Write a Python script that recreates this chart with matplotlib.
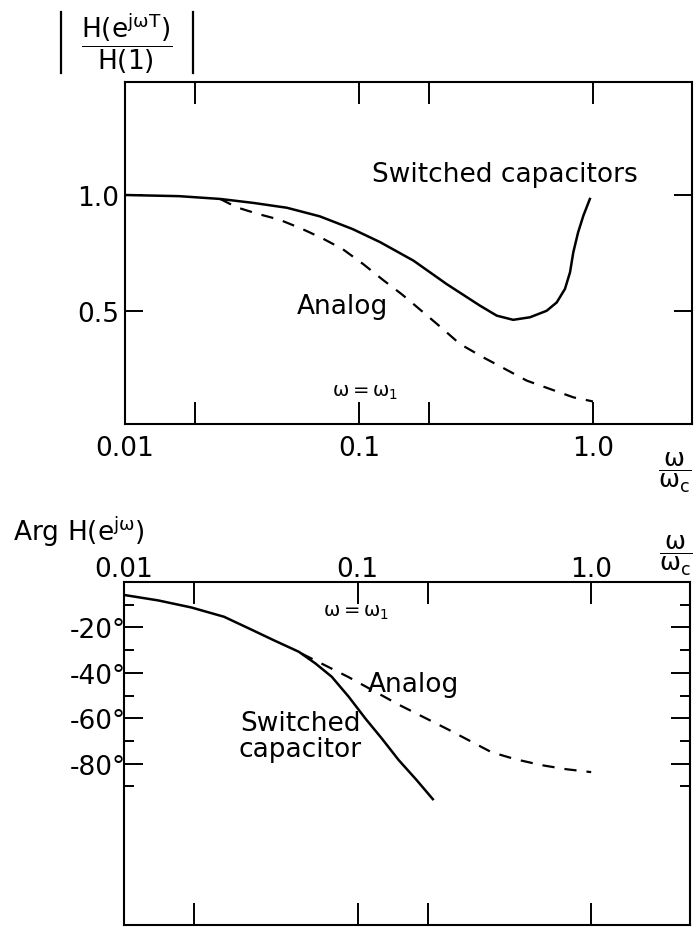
#=======================================================================
# GENERAL DOCUMENTATION ------------------------------------------------
""" Magnitude and phase of a switched capacitor filter compared with
    the analog prototype (log frequency axis, two stacked panels).
"""

#=======================================================================
# PROGRAM IMPORTS ------------------------------------------------------
import numpy as nu
import matplotlib
matplotlib.use("Agg")
import matplotlib.pyplot as plt
from matplotlib.lines import Line2D
from matplotlib.ticker import FixedLocator, FixedFormatter, NullLocator

# PROGRAM CONSTANTS ----------------------------------------------------
# Magnitude panel, switched capacitor (solid)
mag_sc_w = [0.01, 0.017, 0.0255, 0.0353, 0.0492, 0.068, 0.094, 0.123,
            0.171, 0.237, 0.329, 0.388, 0.456, 0.538, 0.634, 0.70,
            0.759, 0.798, 0.824, 0.864, 0.91, 0.97]
mag_sc_h = [1.0, 0.995, 0.983, 0.966, 0.945, 0.908, 0.853, 0.797,
            0.717, 0.616, 0.523, 0.48, 0.462, 0.473, 0.501, 0.537,
            0.595, 0.667, 0.753, 0.839, 0.911, 0.983]

# Magnitude panel, analog (dashed)
mag_an_w = [0.0255, 0.030, 0.0371, 0.0456, 0.0565, 0.0692, 0.0851,
            0.104, 0.127, 0.152, 0.171, 0.215, 0.237, 0.27, 0.34,
            0.414, 0.521, 0.655, 0.824, 0.97, 1.0]
mag_an_h = [0.983, 0.947, 0.918, 0.894, 0.856, 0.815, 0.767,
            0.703, 0.633, 0.573, 0.53, 0.445, 0.408, 0.358, 0.30,
            0.254, 0.20, 0.164, 0.128, 0.113, 0.11]

# Phase panel, switched capacitor (solid)
ph_sc_w = [0.01, 0.014, 0.0194, 0.0268, 0.0342, 0.0437, 0.056, 0.0659,
           0.0775, 0.0916, 0.108, 0.127, 0.15, 0.179, 0.21]
ph_sc_deg = [-5.7, -8.1, -11.2, -15.3, -20.4, -25.6, -30.7, -35.8,
             -41.7, -50.5, -60.1, -68.9, -78.4, -87.2, -95.6]

# Phase panel, analog (dashed)
ph_an_w = [0.0576, 0.0916, 0.15, 0.245, 0.374, 0.473, 0.611, 0.78, 1.0]
ph_an_deg = [-31.5, -41.9, -54, -65, -74.9, -78, -80.6, -82.4, -83.7]

# Axis ticks
x_ticks = [0.01, 0.02, 0.1, 0.2, 1.0]
x_labels = ["0.01", "", "0.1", "", "1.0"]
mag_ticks = [0.5, 1.0]
mag_labels = ["0.5", "1.0"]
ph_major = [-20, -40, -60, -80]
ph_major_labels = ["-20°", "-40°", "-60°", "-80°"]
ph_minor = [-10, -30, -50, -70, -90]

FS = 19                         # main font size
LW = 1.8                        # curve line width
DASH = (5.5, 4.5)
W_RATIO = r"$\dfrac{\mathrm{\omega}}{\mathrm{\omega_c}}$"
W_ONE = r"$\mathrm{\omega = \omega_1}$"

plt.rcParams['font.family'] = ['DejaVu Sans']
plt.rcParams['mathtext.fontset'] = 'dejavusans'

# FUNCTION: setupAxis --------------------------------------------------
def setupAxis(ax):
    """ Description: common log x axis, boxed frame, inward ticks
    """
    ax.set_xscale("log")
    ax.set_xlim(0.01, 2.65)
    for s in ax.spines.values():
        s.set_linewidth(1.5)
    ax.xaxis.set_major_locator(FixedLocator(x_ticks))
    ax.xaxis.set_major_formatter(FixedFormatter(x_labels))
    ax.xaxis.set_minor_locator(NullLocator())
    ax.tick_params(axis="x", which="major", direction="in", length=16,
                   width=1.4, top=True, bottom=True, labelsize=FS)
    ax.tick_params(axis="y", which="both", direction="in", width=1.4,
                   left=True, right=True, labelsize=FS)

# FUNCTION: px ---------------------------------------------------------
def px(x, y):
    """ Description: pixel position (from top left) to figure fraction
    """
    return x / 699, 1 - y / 929

#=======================================================================
# PROGRAM SCRIPT -------------------------------------------------------
fig = plt.figure(figsize=(6.99, 9.29), dpi=100)

# magnitude panel ------------------------------------------------------
ax1 = fig.add_axes([125/699, 1-425/929, 567/699, 342/929])
setupAxis(ax1)
ax1.set_ylim(0.013, 1.487)
ax1.yaxis.set_major_locator(FixedLocator(mag_ticks))
ax1.yaxis.set_major_formatter(FixedFormatter(mag_labels))
ax1.tick_params(axis="y", which="major", length=13, pad=4)
ax1.tick_params(axis="x", pad=8)

ax1.plot(mag_sc_w, mag_sc_h, color="black", lw=LW)
ax1.plot(mag_an_w, mag_an_h, color="black", lw=LW - 0.2,
         linestyle=(0, DASH))

ax1.text(0.42, 1.09, "Switched capacitors", fontsize=FS, ha="center",
         va="center")
ax1.text(0.0846, 0.52, "Analog", fontsize=FS, ha="center", va="center")
ax1.text(0.106, 0.155, W_ONE, fontsize=14, ha="center", va="center")

# |H(e^jwT)/H(1)| label, bars drawn as thin lines
fig.text(*px(127, 44),
         r"$\dfrac{\mathrm{H(e^{j\omega T})}}{\mathrm{H(1)}}$",
         fontsize=19, ha="center", va="center")
for bx in (61, 193):
    fig.add_artist(Line2D([px(bx, 13)[0]] * 2,
                          [px(bx, 13)[1], px(bx, 74)[1]],
                          color="black", lw=1.6))
fig.text(*px(675, 473), W_RATIO, fontsize=18, ha="center", va="center")

# phase panel ----------------------------------------------------------
ax2 = fig.add_axes([124/699, 1-926/929, 566/699, 343/929])
setupAxis(ax2)
ax2.set_ylim(-151, 0)
ax2.yaxis.set_major_locator(FixedLocator(ph_major))
ax2.yaxis.set_major_formatter(FixedFormatter(ph_major_labels))
ax2.yaxis.set_minor_locator(FixedLocator(ph_minor))
ax2.tick_params(axis="y", which="major", length=14, pad=-1)
ax2.tick_params(axis="y", which="minor", length=7)
ax2.tick_params(axis="x", labeltop=True, labelbottom=False, pad=0)

ax2.plot(ph_sc_w, ph_sc_deg, color="black", lw=LW)
ax2.plot(ph_an_w, ph_an_deg, color="black", lw=LW - 0.2,
         linestyle=(0, DASH))

ax2.text(0.173, -45, "Analog", fontsize=FS, ha="center", va="center")
ax2.text(0.057, -67.8, "Switched\ncapacitor", fontsize=FS, ha="center",
         va="center", linespacing=1.0)
ax2.text(0.099, -12.8, W_ONE, fontsize=14, ha="center", va="center")

fig.text(*px(13, 532), r"Arg H(e$^{\mathrm{j\omega}}$)", fontsize=FS,
         ha="left", va="center")
fig.text(*px(676, 556), W_RATIO, fontsize=18, ha="center", va="center")

fig.savefig("out.png", dpi=100)

#=======================================================================
# END FILE
